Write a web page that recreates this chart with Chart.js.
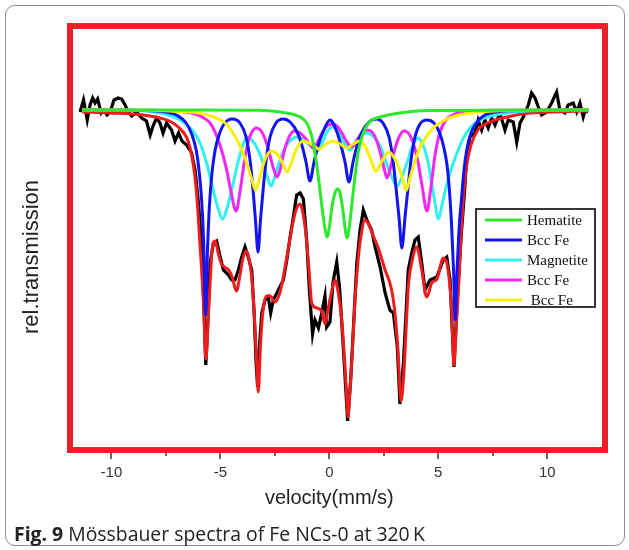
<!DOCTYPE html>
<html>
<head>
<meta charset="utf-8">
<script src="https://cdn.jsdelivr.net/npm/chart.js@4.4.0/dist/chart.umd.min.js"></script>
<style>
  html, body { margin: 0; padding: 0; background: #fff; }
  #wrap { position: relative; width: 629px; height: 550px; overflow: hidden; }
  #box { position: absolute; left: 5px; top: 5px; width: 620px; height: 541px; border: 1.5px solid #8c8c8c; border-radius: 10px; box-sizing: border-box; }
  canvas { position: absolute; left: 0; top: 0; }
  #caption { position: absolute; left: 14px; top: 520px; font-family: "Open Sans", sans-serif; font-size: 19.4px; color: #222; white-space: nowrap; }
  #caption b { font-weight: 700; }
</style>
</head>
<body>
<div id="wrap">
  <div id="box"></div>
  <canvas id="chart" width="629" height="550"></canvas>
  <div id="caption"><b>Fig. 9</b> Mössbauer spectra of Fe NCs-0 at 320&#8201;K</div>
</div>
<script>
// velocity (mm/s), relative transmission (%)
const measured = [
  [-11.44,99.8],[-11.28,101.0],[-11.11,99.0],[-10.98,100.5],[-10.86,101.2],[-10.75,100.7],[-10.63,101.1],[-10.47,99.7],
  [-10.34,100.0],[-10.20,99.5],[-10.06,99.8],[-9.88,101.0],[-9.69,101.2],[-9.53,101.1],[-9.37,100.5],[-9.23,99.8],
  [-9.07,99.4],[-8.84,99.8],[-8.61,99.2],[-8.39,98.9],[-8.22,97.5],[-8.09,98.4],[-7.93,99.2],[-7.77,98.7],[-7.63,97.7],
  [-7.47,98.7],[-7.24,98.0],[-7.08,96.9],[-6.92,97.7],[-6.76,96.9],[-6.55,96.5],[-6.32,95.7],[-6.16,94.0],[-6.02,91.0],
  [-5.91,88.0],[-5.82,84.0],[-5.75,80.0],[-5.67,74.5],[-5.56,79.5],[-5.47,84.7],[-5.32,86.7],[-5.17,86.9],[-5.01,85.3],
  [-4.86,84.0],[-4.63,83.5],[-4.48,83.0],[-4.33,83.0],[-4.17,84.0],[-4.02,85.3],[-3.87,86.3],[-3.72,85.3],[-3.56,84.0],
  [-3.45,79.7],[-3.36,74.7],[-3.29,72.3],[-3.21,76.3],[-3.10,79.7],[-2.95,81.0],[-2.80,81.3],[-2.69,79.7],[-2.57,81.0],
  [-2.34,82.0],[-2.11,83.0],[-1.95,85.0],[-1.80,87.3],[-1.65,89.3],[-1.50,91.5],[-1.34,91.7],[-1.19,91.1],[-1.04,87.0],
  [-0.91,81.8],[-0.77,77.6],[-0.66,79.0],[-0.50,78.2],[-0.35,79.7],[-0.20,81.4],[-0.12,78.3],[0.03,78.8],[0.17,82.8],
  [0.34,84.8],[0.47,82.2],[0.64,76.3],[0.84,68.9],[0.98,73.0],[1.10,78.0],[1.26,84.7],[1.41,88.0],[1.56,90.0],[1.72,89.0],
  [1.94,88.0],[2.10,86.3],[2.33,84.3],[2.56,81.7],[2.78,80.0],[2.94,79.7],[3.12,76.3],[3.24,70.6],[3.39,74.3],[3.52,79.7],
  [3.62,84.0],[3.78,85.7],[3.93,87.0],[4.08,87.3],[4.24,84.7],[4.39,82.0],[4.62,83.0],[4.93,83.3],[5.23,85.0],[5.39,85.3],
  [5.54,83.0],[5.64,78.0],[5.72,74.3],[5.81,78.3],[5.92,83.0],[6.07,88.0],[6.22,92.3],[6.30,95.3],[6.45,97.3],[6.68,97.7],
  [6.83,99.0],[6.99,98.0],[7.14,99.0],[7.29,98.2],[7.45,99.2],[7.60,98.5],[7.83,99.7],[8.06,98.0],[8.21,99.0],[8.44,98.8],
  [8.60,96.8],[8.75,98.7],[8.90,99.3],[9.13,100.5],[9.28,101.7],[9.44,101.2],[9.59,100.3],[9.74,99.5],[9.97,99.8],
  [10.20,100.7],[10.43,101.8],[10.58,100.0],[10.81,99.7],[10.96,100.5],[11.19,100.7],[11.35,99.8],[11.50,100.7],
  [11.65,99.3],[11.73,99.9],[11.87,99.8]
];

const fitTotal = [
  [-11.34,99.8],[-10.06,99.7],[-8.55,99.5],[-7.77,99.2],[-7.17,98.7],[-6.71,97.8],[-6.48,96.9],[-6.30,95.3],[-6.16,93.2],
  [-6.05,90.5],[-5.95,87.0],[-5.86,84.0],[-5.77,80.5],[-5.66,75.1],[-5.54,80.0],[-5.45,83.5],[-5.38,86.0],[-5.24,86.9],
  [-5.11,85.8],[-4.97,84.7],[-4.81,84.3],[-4.62,84.0],[-4.46,83.3],[-4.26,81.9],[-4.10,83.5],[-3.96,85.2],[-3.82,85.9],
  [-3.68,85.1],[-3.55,83.0],[-3.43,79.0],[-3.34,75.0],[-3.26,71.8],[-3.16,76.5],[-3.04,80.0],[-2.88,81.4],[-2.72,81.4],
  [-2.49,80.8],[-2.26,81.8],[-2.08,83.7],[-1.89,86.0],[-1.71,88.3],[-1.53,90.0],[-1.34,90.6],[-1.21,89.7],[-1.07,87.5],
  [-0.93,84.0],[-0.81,80.7],[-0.58,80.2],[-0.35,79.9],[-0.20,78.6],[-0.05,80.2],[0.12,82.0],[0.26,83.0],[0.41,81.7],
  [0.56,79.2],[0.67,76.0],[0.77,72.5],[0.86,69.3],[0.95,72.0],[1.04,75.2],[1.18,81.0],[1.32,85.0],[1.45,87.4],[1.64,89.0],
  [1.82,88.5],[2.00,87.5],[2.23,86.3],[2.56,84.0],[2.86,82.0],[3.01,79.7],[3.15,76.0],[3.29,70.9],[3.43,74.0],[3.52,78.0],
  [3.63,82.5],[3.79,84.8],[4.01,86.3],[4.24,84.0],[4.47,81.3],[4.70,82.7],[4.94,83.1],[5.23,85.2],[5.45,84.0],[5.61,80.0],
  [5.72,74.5],[5.83,78.5],[5.95,83.0],[6.06,88.0],[6.18,92.0],[6.32,94.7],[6.50,96.5],[6.82,98.0],[7.37,98.8],[8.15,99.3],
  [9.21,99.7],[10.26,99.8],[11.87,99.9]
];

const hematite = [
  [-11.34,100.0],[-5.93,100.0],[-3.18,99.97],[-2.26,99.8],[-1.71,99.6],[-1.34,99.3],[-1.07,98.8],[-0.89,98.0],[-0.75,96.8],
  [-0.61,95.0],[-0.47,92.7],[-0.33,90.2],[-0.22,88.4],[-0.11,87.3],[0.01,88.4],[0.12,90.3],[0.26,91.7],[0.38,92.1],
  [0.49,91.7],[0.61,90.2],[0.72,88.2],[0.81,87.2],[0.93,88.5],[1.04,90.7],[1.18,93.4],[1.32,95.7],[1.48,97.2],[1.68,98.3],
  [1.96,99.0],[2.33,99.3],[3.06,99.65],[4.62,99.95],[11.91,100.0]
];

const bccFe1 = [
  [-11.34,100.0],[-8.68,99.95],[-7.54,99.8],[-6.94,99.4],[-6.57,98.7],[-6.30,97.5],[-6.11,96.0],[-5.98,94.0],[-5.86,91.0],
  [-5.77,87.0],[-5.68,79.5],[-5.59,86.0],[-5.50,90.5],[-5.38,93.8],[-5.24,96.0],[-5.06,97.5],[-4.83,98.6],[-4.46,99.1],
  [-4.10,98.7],[-3.82,97.3],[-3.64,95.0],[-3.50,92.0],[-3.39,89.0],[-3.27,85.8],[-3.16,89.0],[-3.04,92.0],[-2.90,95.0],
  [-2.72,97.3],[-2.45,98.7],[-2.12,99.1],[-1.80,98.8],[-1.48,97.8],[-1.25,96.4],[-1.07,94.8],[-0.89,92.9],[-0.70,94.8],
  [-0.52,96.4],[-0.29,97.8],[0.03,99.0],[0.35,97.8],[0.54,96.4],[0.72,94.8],[0.90,92.8],[1.09,94.8],[1.27,96.4],[1.50,97.8],
  [1.82,98.8],[2.17,99.1],[2.46,98.7],[2.74,97.3],[2.92,95.0],[3.06,92.2],[3.20,89.2],[3.33,86.2],[3.47,89.2],[3.61,92.2],
  [3.75,95.0],[3.93,97.3],[4.16,98.6],[4.48,99.0],[4.80,98.7],[5.08,97.6],[5.26,96.2],[5.40,94.5],[5.51,92.0],[5.61,88.5],
  [5.70,84.0],[5.77,79.0],[5.86,84.0],[5.95,88.0],[6.06,91.0],[6.18,94.0],[6.32,96.2],[6.50,97.7],[6.78,98.8],[7.14,99.5],
  [7.83,99.85],[9.21,99.95],[11.91,100.0]
];

const magnetite = [
  [-11.34,100.0],[-8.68,99.95],[-7.54,99.6],[-6.85,99.0],[-6.30,98.0],[-5.93,96.7],[-5.61,94.5],[-5.33,92.0],[-5.11,90.2],
  [-4.90,89.1],[-4.69,90.2],[-4.46,92.2],[-4.19,94.8],[-3.96,96.5],[-3.78,97.3],[-3.55,97.0],[-3.27,96.0],[-3.04,94.7],
  [-2.86,93.4],[-2.67,92.4],[-2.49,93.4],[-2.26,95.0],[-1.99,96.4],[-1.71,97.1],[-1.48,97.3],[-1.25,97.1],[-1.02,96.7],
  [-0.79,96.3],[-0.56,95.9],[-0.33,96.7],[-0.11,97.8],[0.17,98.3],[0.44,97.8],[0.67,96.8],[0.95,96.0],[1.18,96.8],
  [1.41,97.4],[1.73,97.7],[2.05,97.3],[2.33,96.4],[2.60,94.8],[2.83,93.5],[3.11,92.4],[3.33,93.3],[3.56,94.7],[3.84,96.5],
  [4.07,97.2],[4.30,96.5],[4.53,94.8],[4.71,92.5],[4.85,90.7],[5.01,89.1],[5.17,90.5],[5.35,92.2],[5.58,94.0],[5.86,95.7],
  [6.13,97.1],[6.45,98.2],[6.91,99.0],[7.60,99.5],[8.52,99.8],[9.67,99.95],[11.91,100.0]
];

const bccFe2 = [
  [-11.34,100.0],[-8.22,99.98],[-6.62,99.8],[-5.93,99.4],[-5.47,98.7],[-5.15,97.3],[-4.92,95.8],[-4.69,93.8],[-4.51,91.8],
  [-4.28,89.9],[-4.10,91.8],[-3.91,94.7],[-3.73,96.8],[-3.55,97.8],[-3.36,98.2],[-3.13,97.9],[-2.90,96.8],[-2.72,95.4],
  [-2.54,94.0],[-2.40,93.3],[-2.26,94.0],[-2.08,95.8],[-1.89,97.1],[-1.62,97.9],[-1.34,97.7],[-1.11,97.2],[-0.93,96.7],
  [-0.75,96.2],[-0.56,96.7],[-0.33,97.7],[-0.11,98.4],[0.12,98.6],[0.35,98.4],[0.58,97.7],[0.81,96.8],[1.04,96.3],
  [1.22,96.8],[1.45,97.6],[1.68,98.0],[1.91,97.9],[2.14,97.1],[2.33,95.8],[2.51,94.2],[2.65,93.2],[2.78,94.0],[2.97,95.8],
  [3.20,97.3],[3.43,97.9],[3.66,97.6],[3.89,96.4],[4.07,94.8],[4.25,92.5],[4.48,89.9],[4.67,92.4],[4.85,95.5],[5.08,97.8],
  [5.35,99.0],[5.77,99.6],[6.45,99.9],[7.83,99.98],[11.91,100.0]
];

const bccFe3 = [
  [-11.34,100.0],[-8.22,99.97],[-6.85,99.85],[-5.93,99.67],[-5.24,99.25],[-4.78,98.7],[-4.42,97.7],[-4.14,96.6],[-3.91,95.4],
  [-3.73,94.3],[-3.55,93.0],[-3.39,92.0],[-3.22,93.0],[-3.04,94.5],[-2.86,95.5],[-2.63,95.9],[-2.40,95.6],[-2.17,94.8],
  [-1.94,93.8],[-1.76,94.6],[-1.53,96.0],[-1.21,96.9],[-0.84,96.6],[-0.47,96.1],[-0.15,96.6],[0.17,96.9],[0.49,96.6],
  [0.81,96.2],[1.09,96.6],[1.41,96.9],[1.68,96.2],[1.91,95.0],[2.14,93.85],[2.37,94.7],[2.74,95.8],[3.01,95.1],[3.20,94.2],
  [3.38,93.0],[3.52,91.95],[3.70,93.2],[3.89,94.6],[4.11,96.0],[4.39,97.1],[4.76,98.2],[5.22,98.9],[5.77,99.4],[6.45,99.7],
  [7.83,99.92],[9.67,99.98],[11.91,100.0]
];

const componentNames = ['Hematite', 'Bcc Fe', 'Magnetite', 'Bcc Fe', ' Bcc Fe'];
const componentColors = ['#2de82d', '#1414f0', '#30f0f0', '#f028f0', '#f7f000'];
const componentData = [hematite, bccFe1, magnetite, bccFe2, bccFe3];
// lower value is painted on top
const componentOrder = [0, 2, 4, 3, 1];

const majorTicks = [-10, -5, 0, 5, 10];
const minorTicks = [-7.5, -2.5, 2.5, 7.5];

const toPoints = arr => arr.map(p => ({ x: p[0], y: p[1] }));

const datasets = componentData.map((arr, i) => ({
  label: componentNames[i],
  data: toPoints(arr),
  borderColor: componentColors[i],
  borderWidth: 3,
  pointRadius: 0,
  cubicInterpolationMode: 'monotone',
  order: componentOrder[i]
}));
datasets.push({
  label: 'fit',
  data: toPoints(fitTotal),
  borderColor: '#ee1c1c',
  borderWidth: 3,
  pointRadius: 0,
  cubicInterpolationMode: 'monotone',
  order: 5
});
datasets.push({
  label: 'data',
  data: toPoints(measured),
  borderColor: '#000',
  borderWidth: 3.2,
  pointRadius: 0,
  tension: 0,
  order: 6
});

const decor = {
  id: 'decor',
  afterDatasetsDraw(chart) {
    const { ctx, chartArea: a } = chart;
    ctx.save();
    ctx.strokeStyle = '#e8202a';
    ctx.lineWidth = 6;
    ctx.strokeRect(a.left, a.top, a.right - a.left, a.bottom - a.top);
    ctx.restore();
  },
  afterDraw(chart) {
    const { ctx, chartArea: a, scales: { x } } = chart;
    ctx.save();

    // tick marks under the frame
    ctx.strokeStyle = '#333';
    ctx.lineWidth = 1.5;
    majorTicks.concat(minorTicks).forEach(v => {
      const px = Math.round(x.getPixelForValue(v));
      const len = majorTicks.includes(v) ? 9 : 6;
      ctx.beginPath();
      ctx.moveTo(px, a.bottom + 3);
      ctx.lineTo(px, a.bottom + len);
      ctx.stroke();
    });

    // axis titles
    ctx.fillStyle = '#222';
    ctx.textAlign = 'center';
    ctx.textBaseline = 'middle';
    ctx.font = '20px "Liberation Sans", Arial, sans-serif';
    ctx.fillText('velocity(mm/s)', x.getPixelForValue(0), 498);
    ctx.save();
    ctx.translate(32, 257);
    ctx.rotate(-Math.PI / 2);
    ctx.font = '22px "Liberation Sans", Arial, sans-serif';
    ctx.fillText('rel.transmission', 0, 0);
    ctx.restore();

    // legend box
    const bx = 476, by = 209, bw = 119, bh = 98;
    ctx.fillStyle = '#fff';
    ctx.fillRect(bx, by, bw, bh);
    ctx.strokeStyle = '#222';
    ctx.lineWidth = 1.8;
    ctx.strokeRect(bx, by, bw, bh);
    ctx.font = '15px "Liberation Serif", "Times New Roman", serif';
    ctx.textAlign = 'left';
    componentNames.forEach((name, i) => {
      const yy = by + 11 + i * 20;
      ctx.strokeStyle = componentColors[i];
      ctx.lineWidth = 3;
      ctx.beginPath();
      ctx.moveTo(bx + 9, yy);
      ctx.lineTo(bx + 46, yy);
      ctx.stroke();
      ctx.fillStyle = '#111';
      ctx.fillText(name, bx + 51, yy + 1);
    });
    ctx.restore();
  }
};

new Chart(document.getElementById('chart'), {
  type: 'line',
  data: { datasets },
  options: {
    responsive: false,
    animation: false,
    layout: { padding: { left: 70, right: 24, top: 26, bottom: 54 } },
    plugins: { legend: { display: false }, tooltip: { enabled: false } },
    scales: {
      x: {
        type: 'linear',
        min: -11.9,
        max: 12.65,
        afterBuildTicks: axis => { axis.ticks = majorTicks.map(v => ({ value: v })); },
        ticks: {
          padding: 14,
          color: '#333',
          font: { family: '"Liberation Sans", Arial, sans-serif', size: 15 },
          maxRotation: 0,
          autoSkip: false
        },
        grid: { display: false, drawTicks: false },
        border: { display: false }
      },
      y: {
        min: 66.0,
        max: 108.4,
        display: false
      }
    }
  },
  plugins: [decor]
});
</script>
</body>
</html>
